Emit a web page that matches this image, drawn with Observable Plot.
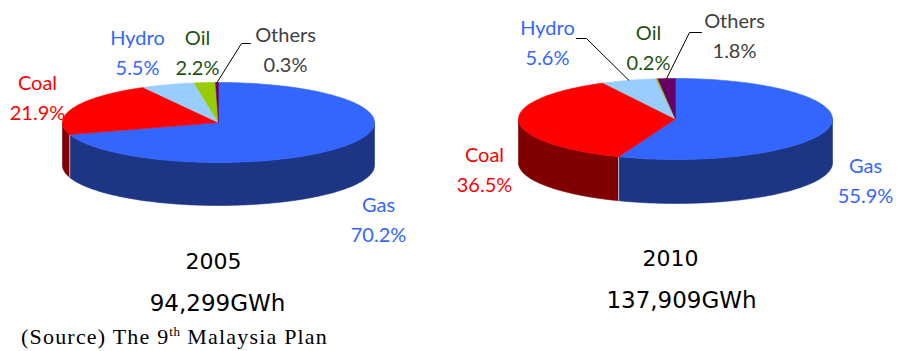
<!DOCTYPE html>
<html><head><meta charset="utf-8">
<script src="https://cdn.jsdelivr.net/npm/d3@7"></script>
<script src="https://cdn.jsdelivr.net/npm/@observablehq/plot@0.6"></script>
<style>
body{margin:0;background:#fff;}
#wrap{position:relative;width:908px;height:351px;overflow:hidden;background:#fff;}
#caption{position:absolute;left:21px;top:324px;font-family:"Liberation Serif",serif;font-size:22px;letter-spacing:1.2px;color:#000;white-space:nowrap;line-height:26px;}
#caption sup{font-size:13px;vertical-align:8px;line-height:0;letter-spacing:0.5px;}
</style></head><body>
<div id="wrap"></div>
<script>
// ---- data ----
const sources = ["Gas", "Coal", "Hydro", "Oil", "Others"];
const share2005 = [70.2, 21.9, 5.5, 2.2, 0.3];
const share2010 = [55.9, 36.5, 5.6, 0.2, 1.8];
const years = ["2005", "2010"];
const totals = ["94,299GWh", "137,909GWh"];
const sourceNote = "(Source) The 9<sup>th</sup> Malaysia Plan";

// ---- styles ----
const topColors = {Gas: "#3366FF", Coal: "#FF0000", Hydro: "#99CCFF", Oil: "#99CC00", Others: "#660066"};
const sideColors = {Gas: "#1C3584", Coal: "#800000", Hydro: "#4D6680", Oil: "#4D6600", Others: "#330033"};
const labelColors = {Gas: "#3366FF", Coal: "#FF0000", Hydro: "#3366FF", Oil: "#1B5212", Others: "#404040"};

// ---- layout ----
const W = 908, H = 351;
const pies = [
  {cx: 218, cy: 122, rx: 156, ry: 40, depth: 43, shares: share2005, year: years[0], total: totals[0],
   labels: {Gas: [160, 95], Coal: [-181, -27], Hydro: [-81, -72], Oil: [-21, -72], Others: [67, -75]},
   leaders: {Others: [[32, -79], [23, -79]]},
   yearPos: [-5, 139.5], totalPos: [-1, 181]},
  {cx: 675, cy: 118.5, rx: 157, ry: 40.5, depth: 44, shares: share2010, year: years[1], total: totals[1],
   labels: {Gas: [190, 59.5], Coal: [-191, 48.5], Hydro: [-128, -78.5], Oil: [-27, -73.5], Others: [59, -85.5]},
   leaders: {Hydro: [[-99, -80.5], [-89, -80.5]], Others: [[26, -86.5], [14, -86.5]]},
   yearPos: [-5, 139.5], totalPos: [6, 181.5]}
];

const rad = d => d * Math.PI / 180;
const pt = (p, a, dy = 0) => ({x: p.cx + p.rx * Math.sin(rad(a)), y: p.cy - p.ry * Math.cos(rad(a)) + dy});
function arc(p, a0, a1, dy) {
  const n = Math.max(2, Math.ceil(Math.abs(a1 - a0) / 1.5));
  return d3.range(n + 1).map(i => pt(p, a0 + (a1 - a0) * i / n, dy));
}

const sides = [], tops = [], seams = [], leaders = [], labels = [], yearTexts = [], totalTexts = [];
pies.forEach((p, pi) => {
  const sum = d3.sum(p.shares);
  let acc = 0;
  sources.forEach((s, i) => {
    const a0 = acc / sum * 360; acc += p.shares[i]; const a1 = acc / sum * 360;
    const id = pi + "-" + s;
    const c = {x: p.cx, y: p.cy};
    [c, ...arc(p, a0, a1, 0), c].forEach(q => tops.push({id, color: topColors[s], ...q}));
    const s0 = Math.max(a0, 90), s1 = Math.min(a1, 270);
    if (s1 > s0) {
      const poly = [...arc(p, s0, s1, 0), ...arc(p, s1, s0, p.depth)];
      poly.push(poly[0]);
      poly.forEach(q => sides.push({id, color: sideColors[s], ...q}));
    }
    if (a0 > 90 && a0 < 270) {
      const t = pt(p, a0, 0), b = pt(p, a0, p.depth);
      seams.push({x1: t.x, y1: t.y, x2: b.x, y2: b.y});
    }
    const [lx, ly] = p.labels[s];
    labels.push({x: p.cx + lx, y: p.cy + ly, text: s + "\n" + p.shares[i].toFixed(1) + "%", color: labelColors[s]});
    if (p.leaders[s]) {
      const end = pt(p, (a0 + a1) / 2, 0);
      [...p.leaders[s].map(([dx, dy]) => ({x: p.cx + dx, y: p.cy + dy})), end]
        .forEach(q => leaders.push({id, ...q}));
    }
  });
  yearTexts.push({x: p.cx + p.yearPos[0], y: p.cy + p.yearPos[1], text: p.year});
  totalTexts.push({x: p.cx + p.totalPos[0], y: p.cy + p.totalPos[1], text: p.total});
});

const chart = Plot.plot({
  width: W, height: H, margin: 0,
  x: {domain: [0, W], range: [0, W], axis: null},
  y: {domain: [0, H], range: [0, H], axis: null},
  color: {type: "identity"},
  style: {background: "#fff", overflow: "visible"},
  marks: [
    Plot.line(sides, {x: "x", y: "y", z: "id", fill: "color", stroke: "color", strokeWidth: 0.6, curve: "linear"}),
    Plot.link(seams, {x1: "x1", y1: "y1", x2: "x2", y2: "y2", stroke: "#b9bfd6", strokeWidth: 1}),
    Plot.line(tops, {x: "x", y: "y", z: "id", fill: "color", stroke: "color", strokeWidth: 0.6, curve: "linear"}),
    Plot.line(leaders, {x: "x", y: "y", z: "id", stroke: "#000", strokeWidth: 1, curve: "linear"}),
    Plot.text(labels, {x: "x", y: "y", text: "text", fill: "color", fontSize: 20, fontFamily: "Lato", lineHeight: 1.5, lineAnchor: "middle", textAnchor: "middle"}),
    Plot.text(yearTexts, {x: "x", y: "y", text: "text", fill: "#000", fontSize: 22, fontFamily: "DejaVu Sans", lineAnchor: "middle", textAnchor: "middle"}),
    Plot.text(totalTexts, {x: "x", y: "y", text: "text", fill: "#000", fontSize: 23, fontFamily: "DejaVu Sans", lineAnchor: "middle", textAnchor: "middle"})
  ]
});
const wrap = document.getElementById("wrap");
wrap.appendChild(chart);
const cap = document.createElement("div");
cap.id = "caption";
cap.innerHTML = sourceNote;
wrap.appendChild(cap);
</script>
</body></html>
